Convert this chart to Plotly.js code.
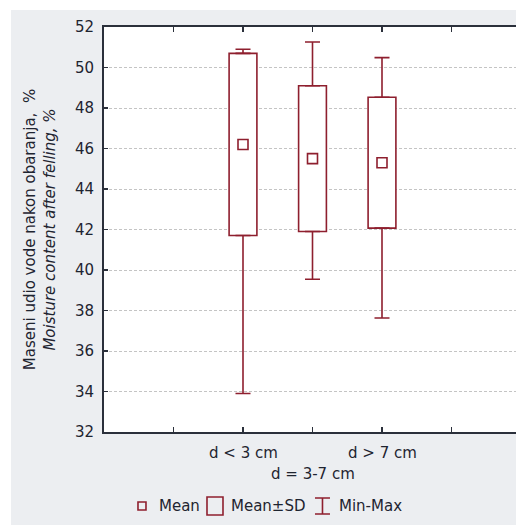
<!DOCTYPE html>
<html>
<head>
<meta charset="utf-8">
<script src="https://cdn.plot.ly/plotly-3.0.1.min.js"></script>
<style>
html,body{margin:0;padding:0;background:#ffffff;}
#chart{position:absolute;left:11px;top:10px;width:505px;height:515px;}
</style>
</head>
<body>
<div id="chart"></div>
<script>
// ---- data ----
var categories = ['d < 3 cm', 'd = 3-7 cm', 'd > 7 cm'];
var catPos = [1, 2, 3];
var means = [46.2, 45.5, 45.3];
var sds = [4.5, 3.6, 3.23];
var mins = [33.9, 39.54, 37.63];
var maxs = [50.9, 51.26, 50.49];
var yTicks = [32, 34, 36, 38, 40, 42, 44, 46, 48, 50, 52];
var legendLabels = ['Mean', 'Mean\u00b1SD', 'Min-Max'];

var red = '#8e1f2e';
var lower = means.map(function(m, i){ return m - sds[i]; });
var upper = means.map(function(m, i){ return m + sds[i]; });

var traces = [
  { // Mean±SD boxes
    type: 'bar', x: catPos, y: sds.map(function(s){ return 2*s; }), base: lower,
    width: 0.4, marker: {color: '#ffffff', line: {color: red, width: 1.6}},
    hoverinfo: 'skip', showlegend: false
  },
  { // upper whiskers
    type: 'scatter', mode: 'markers', x: catPos, y: upper,
    marker: {size: 1, opacity: 0},
    error_y: {type: 'data', symmetric: false,
      array: maxs.map(function(v, i){ return v - upper[i]; }),
      arrayminus: catPos.map(function(){ return 0; }),
      color: red, thickness: 1.6, width: 7.5},
    showlegend: false, hoverinfo: 'skip'
  },
  { // lower whiskers
    type: 'scatter', mode: 'markers', x: catPos, y: lower,
    marker: {size: 1, opacity: 0},
    error_y: {type: 'data', symmetric: false,
      array: catPos.map(function(){ return 0; }),
      arrayminus: mins.map(function(v, i){ return lower[i] - v; }),
      color: red, thickness: 1.6, width: 7.5},
    showlegend: false, hoverinfo: 'skip'
  },
  { // means
    type: 'scatter', mode: 'markers', x: catPos, y: means,
    marker: {symbol: 'square-open', size: 10, color: red, line: {width: 1.6, color: red}},
    showlegend: false
  }
];

var font = 'DejaVu Sans, Arial, sans-serif';
var txt = '#1e2430';

var annotations = categories.map(function(c, i){
  return {
    text: c, x: catPos[i], xref: 'x', y: 0, yref: 'paper',
    xanchor: 'center', yanchor: 'middle', yshift: (i % 2 === 0) ? -21 : -42,
    showarrow: false, font: {family: font, size: 15, color: txt}
  };
});

// legend (drawn in paper coords below the plot)
var legY = -0.1827;
var legTextX = [0.1286, 0.3034, 0.5655];
legendLabels.forEach(function(l, i){
  annotations.push({
    text: l, x: legTextX[i], xref: 'paper', y: legY, yref: 'paper',
    xanchor: 'left', yanchor: 'middle', showarrow: false,
    font: {family: font, size: 15, color: txt}
  });
});

var shapes = [
  {type: 'rect', xref: 'paper', yref: 'paper', xsizemode: 'pixel', ysizemode: 'pixel',
   xanchor: 0.0922, yanchor: legY, x0: -4, x1: 4, y0: -4, y1: 4,
   line: {color: red, width: 1.6}, fillcolor: 'rgba(0,0,0,0)'},
  {type: 'rect', xref: 'paper', yref: 'paper', xsizemode: 'pixel', ysizemode: 'pixel',
   xanchor: 0.2694, yanchor: legY, x0: -8, x1: 8, y0: -9, y1: 9,
   line: {color: red, width: 1.6}, fillcolor: 'rgba(0,0,0,0)'},
  {type: 'path', xref: 'paper', yref: 'paper', xsizemode: 'pixel', ysizemode: 'pixel',
   xanchor: 0.5303, yanchor: legY,
   path: 'M -7.5 8 L 7.5 8 M 0 8 L 0 -8 M -7.5 -8 L 7.5 -8',
   line: {color: red, width: 1.6}}
];

var layout = {
  width: 505, height: 515,
  margin: {l: 93, r: 0, t: 17, b: 93},
  paper_bgcolor: '#eceef1',
  plot_bgcolor: '#ffffff',
  showlegend: false,
  bargap: 0,
  font: {family: font, size: 15, color: txt},
  xaxis: {
    range: [-1, 4.928], tickvals: [0, 1, 2, 3, 4], ticktext: ['', '', '', '', ''],
    ticks: 'inside', ticklen: 5, tickwidth: 1.5, tickcolor: '#2b303b',
    showline: true, linecolor: '#2b303b', linewidth: 2, mirror: 'ticks',
    showgrid: false, zeroline: false, fixedrange: true
  },
  yaxis: {
    range: [32, 52], tickvals: yTicks, ticktext: yTicks.map(String),
    ticks: 'inside', ticklen: 4, tickwidth: 1.2, tickcolor: '#2b303b',
    ticklabelstandoff: 5,
    showline: true, linecolor: '#2b303b', linewidth: 2, mirror: false,
    showgrid: true, gridcolor: '#c4c4c4', griddash: '3px,2px', gridwidth: 1,
    zeroline: false, fixedrange: true,
    tickfont: {family: font, size: 15, color: txt},
    title: {text: 'Maseni udio vode nakon obaranja,  %<br><i>Moisture content after felling, %</i>',
      font: {family: font, size: 15, color: txt}, standoff: 16}
  },
  annotations: annotations,
  shapes: shapes
};

Plotly.newPlot('chart', traces, layout, {displayModeBar: false, staticPlot: true});
</script>
</body>
</html>
